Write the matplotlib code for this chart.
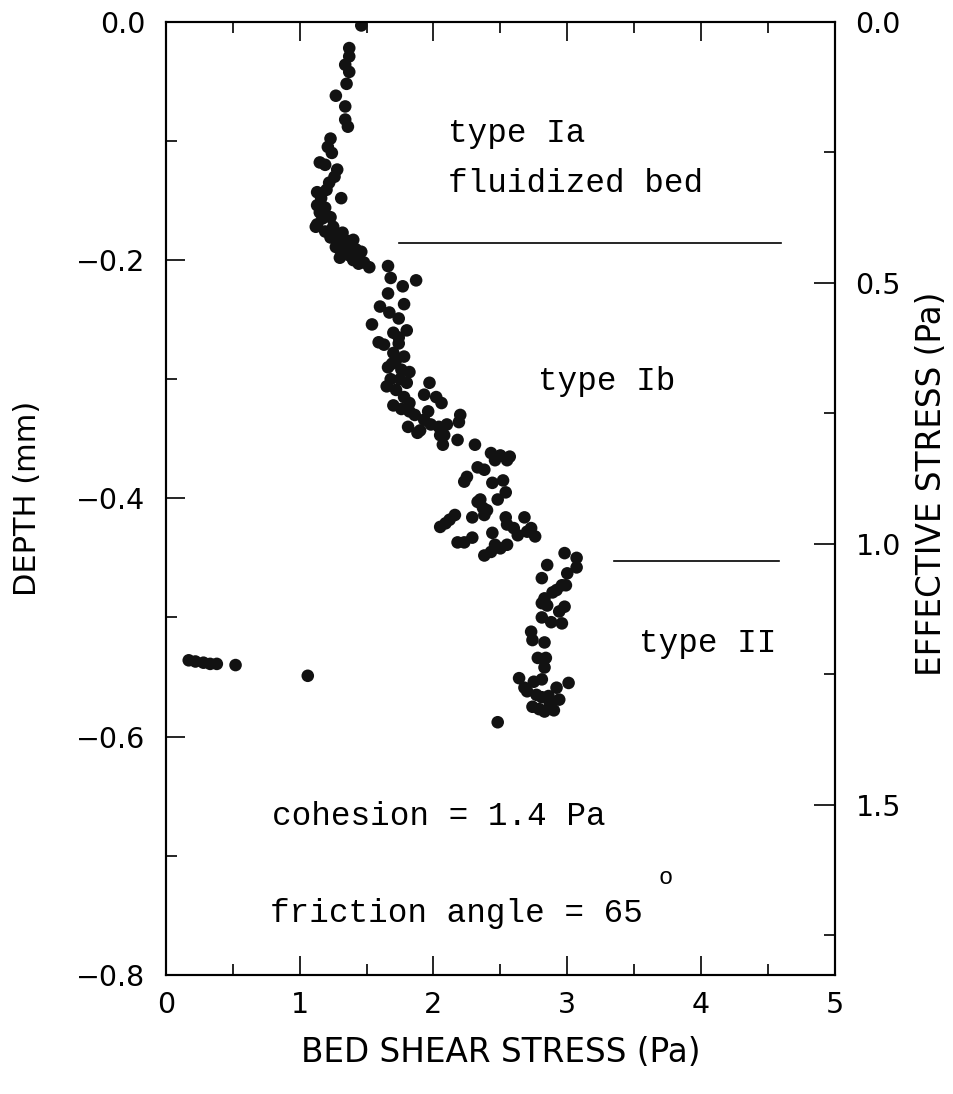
"""
plot.py
Depth vs bed shear stress with effective stress on a second axis
"""

import matplotlib
matplotlib.use("Agg")
import matplotlib.pyplot as plt
from matplotlib.ticker import MultipleLocator

# Data
shear_top = [1.46, 1.37, 1.37, 1.34, 1.37, 1.35, 1.27, 1.34, 1.34, 1.36, 1.23, 1.21,
             1.24, 1.15, 1.19, 1.28, 1.26, 1.22, 1.20, 1.13, 1.16, 1.31, 1.13, 1.19, 1.15]
depth_top = [-0.003, -0.022, -0.029, -0.036, -0.042, -0.052, -0.062, -0.071, -0.082,
             -0.088, -0.098, -0.105, -0.110, -0.118, -0.120, -0.124, -0.130, -0.135,
             -0.141, -0.143, -0.148, -0.148, -0.154, -0.156, -0.160]

shear_ia = [1.23, 1.13, 1.19, 1.32, 1.23, 1.40, 1.27, 1.34, 1.42, 1.37, 1.44, 1.48,
            1.52, 1.31, 1.38, 1.46, 1.31, 1.40, 1.17, 1.25, 1.28, 1.36, 1.44, 1.12, 1.30]
depth_ia = [-0.164, -0.170, -0.176, -0.177, -0.181, -0.183, -0.189, -0.190, -0.191,
            -0.196, -0.197, -0.202, -0.206, -0.186, -0.187, -0.193, -0.193, -0.200,
            -0.165, -0.172, -0.180, -0.184, -0.203, -0.172, -0.198]

shear_ib = [1.66, 1.68, 1.77, 1.87, 1.66, 1.60, 1.78, 1.67, 1.74, 1.54, 1.70, 1.80,
            1.59, 1.63, 1.74, 1.70, 1.78, 1.72, 1.66, 1.76, 1.82, 1.65, 1.72, 1.78,
            1.82, 1.82, 1.97, 1.93, 2.02, 2.06, 1.96, 1.93, 1.68, 1.75, 1.70, 1.76,
            1.86, 1.74, 1.69, 1.80]
depth_ib = [-0.205, -0.215, -0.222, -0.217, -0.228, -0.239, -0.237, -0.244, -0.249,
            -0.254, -0.261, -0.259, -0.269, -0.271, -0.270, -0.278, -0.281, -0.284,
            -0.290, -0.292, -0.294, -0.306, -0.309, -0.315, -0.320, -0.327, -0.303,
            -0.313, -0.315, -0.320, -0.327, -0.334, -0.300, -0.300, -0.322, -0.325,
            -0.330, -0.265, -0.287, -0.303]

shear_mid = [2.20, 2.10, 2.19, 2.04, 1.81, 1.90, 1.88, 1.98, 2.05, 2.08, 2.07, 2.18,
             2.31, 2.43, 2.57, 2.50, 2.46, 2.55, 2.33, 2.38, 2.25, 2.23, 2.44, 2.52,
             2.54, 2.48, 2.33, 2.37, 2.29, 2.38, 2.54, 2.55, 2.68, 2.73, 2.76, 2.63,
             2.44, 2.46, 2.55, 2.50, 2.38, 2.43, 2.29, 2.23, 2.18, 2.09, 2.16, 2.35,
             2.40, 2.05, 2.12, 2.70, 2.60]
depth_mid = [-0.330, -0.338, -0.336, -0.340, -0.340, -0.343, -0.345, -0.338, -0.347,
             -0.347, -0.355, -0.351, -0.355, -0.362, -0.365, -0.364, -0.368, -0.368,
             -0.374, -0.376, -0.382, -0.386, -0.387, -0.385, -0.395, -0.401, -0.403,
             -0.408, -0.416, -0.414, -0.416, -0.422, -0.416, -0.425, -0.432, -0.431,
             -0.429, -0.439, -0.439, -0.442, -0.448, -0.445, -0.433, -0.437, -0.437,
             -0.421, -0.414, -0.401, -0.410, -0.424, -0.418, -0.428, -0.425]

shear_ii = [2.98, 3.07, 2.85, 3.07, 3.00, 2.81, 2.96, 2.92, 2.89, 2.83, 2.99, 2.81,
            2.85, 2.98, 2.94, 2.81, 2.88, 2.96, 2.73, 2.74, 2.83, 2.78, 2.84, 2.83,
            2.75, 2.81, 2.92, 3.01, 2.77, 2.81, 2.87, 2.74, 2.64, 2.68, 2.83, 2.90,
            2.94, 2.48, 2.70, 2.79, 2.86]
depth_ii = [-0.446, -0.450, -0.456, -0.458, -0.463, -0.467, -0.473, -0.477, -0.479,
            -0.484, -0.473, -0.488, -0.490, -0.491, -0.495, -0.500, -0.504, -0.505,
            -0.512, -0.519, -0.521, -0.534, -0.534, -0.542, -0.554, -0.552, -0.559,
            -0.555, -0.565, -0.567, -0.573, -0.575, -0.551, -0.559, -0.579, -0.578,
            -0.569, -0.588, -0.562, -0.577, -0.566]

shear_left = [0.17, 0.22, 0.28, 0.33, 0.38, 0.52, 1.06]
depth_left = [-0.536, -0.537, -0.538, -0.539, -0.539, -0.540, -0.549]

# zone boundaries (depth, start, end in Pa)
boundary_depth = [-0.186, -0.453]
boundary_start = [1.74, 3.35]
boundary_end = [4.6, 4.58]

# labels
zone_labels = ["type Ia", "fluidized bed", "type Ib", "type II"]
zone_x = [2.11, 2.11, 2.78, 3.54]
zone_y = [-0.101, -0.143, -0.309, -0.529]

EFF_STRESS_MAX = 1.826

mono = "Liberation Mono"
plt.rcParams["font.family"] = "DejaVu Sans"
plt.rcParams["axes.linewidth"] = 1.5

fig = plt.figure(figsize=(9.54, 10.94), dpi=100)
ax = fig.add_axes([0.174, 0.109, 0.701, 0.871])

shear = shear_top + shear_ia + shear_ib + shear_mid + shear_ii + shear_left
depth = depth_top + depth_ia + depth_ib + depth_mid + depth_ii + depth_left
ax.scatter(shear, depth, s=82, color="#121212", edgecolors="none", zorder=3)

for d, x0, x1 in zip(boundary_depth, boundary_start, boundary_end):
    ax.plot([x0, x1], [d, d], color="black", lw=1.2)

for txt, x, y in zip(zone_labels, zone_x, zone_y):
    ax.text(x, y, txt, family=mono, fontsize=23.5, ha="left", va="baseline")

ax.text(0.79, -0.674, "cohesion = 1.4 Pa", family=mono, fontsize=23.5, ha="left", va="baseline")
ax.text(0.78, -0.756, "friction angle = 65", family=mono, fontsize=23.5, ha="left", va="baseline")
ax.text(3.68, -0.724, "o", family=mono, fontsize=17, ha="left", va="baseline")

ax.set_xlim(0, 5)
ax.set_ylim(-0.8, 0)
ax.xaxis.set_major_locator(MultipleLocator(1))
ax.xaxis.set_minor_locator(MultipleLocator(0.5))
ax.yaxis.set_major_locator(MultipleLocator(0.2))
ax.yaxis.set_minor_locator(MultipleLocator(0.1))
ax.yaxis.set_major_formatter(plt.FuncFormatter(lambda v, p: f"{v:.1f}".replace("-", "\u2212")))
ax.tick_params(which="both", direction="in", top=True, right=False, width=1.2,
               labelsize=20.5)
ax.tick_params(axis="y", pad=15)
ax.tick_params(axis="x", pad=12)
ax.tick_params(which="major", length=14)
ax.tick_params(which="minor", length=8)
ax.set_xlabel("BED SHEAR STRESS (Pa)", fontsize=23.5, labelpad=12)
ax.set_ylabel("DEPTH (mm)", fontsize=22, labelpad=24)

ax2 = ax.twinx()
ax2.set_ylim(EFF_STRESS_MAX, 0)
ax2.yaxis.set_major_locator(MultipleLocator(0.5))
ax2.yaxis.set_minor_locator(MultipleLocator(0.25))
ax2.yaxis.set_major_formatter(plt.FuncFormatter(lambda v, p: f"{v:.1f}"))
ax2.tick_params(which="both", direction="in", width=1.2, labelsize=20.5, pad=15)
ax2.tick_params(which="major", length=15)
ax2.tick_params(which="minor", length=8)
ax2.set_ylabel("EFFECTIVE STRESS (Pa)", fontsize=23.5, rotation=90)
ax2.yaxis.set_label_coords(1.12, 0.515)

fig.savefig("out.png", dpi=100)
